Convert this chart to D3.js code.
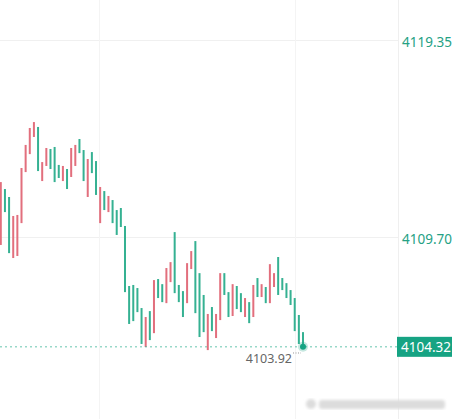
<!DOCTYPE html>
<html>
<head>
<meta charset="utf-8">
<script src="https://cdn.jsdelivr.net/npm/d3@7"></script>
<style>
	body { margin: 0; background: #fff; }
	svg { display: block; }
</style>
</head>
<body>
<div id="chart"></div>
<script>
// candle bodies, one entry per bar (red = up, green = down)
const opens = [
	4109.31, 4112.05, 4111.66, 4108.67, 4108.77, 4110.38, 4112.88, 4113.76, 4114.60, 4115.09,
	4112.44, 4113.18, 4114.01, 4114.11, 4113.23, 4112.44, 4113.03, 4112.64, 4113.18, 4114.50,
	4113.96, 4111.66, 4113.86, 4113.42, 4110.38, 4111.95, 4110.92, 4111.51, 4111.02, 4111.12,
	4110.24, 4107.30, 4107.35, 4107.20, 4106.22, 4104.31, 4106.07, 4104.99, 4107.64, 4107.39,
	4106.46, 4107.49, 4109.94, 4107.35, 4107.05, 4106.46, 4108.13, 4109.50, 4107.93, 4106.86,
	4104.16, 4106.27, 4104.75, 4105.63, 4107.93, 4107.00, 4105.83, 4107.30, 4106.95, 4105.78,
	4106.51, 4105.78, 4107.69, 4106.76, 4107.25, 4106.46, 4107.25, 4108.72, 4107.69, 4107.44,
	4107.10, 4106.71, 4105.88, 4105.04
];
const closes = [
	4112.39, 4110.92, 4108.91, 4110.73, 4110.78, 4113.08, 4114.21, 4115.04, 4115.33, 4112.93,
	4113.37, 4114.06, 4113.03, 4112.39, 4112.59, 4113.18, 4112.05, 4114.06, 4114.21, 4113.81,
	4112.44, 4113.52, 4112.83, 4111.76, 4112.15, 4111.02, 4111.71, 4110.38, 4109.80, 4110.19,
	4107.00, 4105.44, 4105.58, 4106.02, 4104.46, 4105.78, 4104.65, 4107.59, 4106.71, 4106.51,
	4108.18, 4108.47, 4106.95, 4106.51, 4105.78, 4108.42, 4109.01, 4105.97, 4104.80, 4105.04,
	4105.93, 4105.09, 4105.93, 4107.93, 4106.86, 4105.78, 4107.39, 4106.17, 4106.02, 4106.71,
	4105.48, 4107.35, 4106.76, 4107.39, 4106.46, 4108.37, 4107.93, 4106.86, 4107.10, 4106.71,
	4106.37, 4105.09, 4104.46, 4104.32
];
const priceTicks = [4119.35, 4109.70];
const lastPrice = 4104.32;
const lowPrice = 4103.92;
// vertical time grid, in bar index units
const timeGrid = [23.8, 71.1];

const width = 452;
const height = 419;
const plotRight = 398;

const red = '#e26f7d';
const green = '#35b192';

const data = opens.map((o, i) => ({ i, open: o, close: closes[i] }));

const x = d3.scaleLinear()
	.domain([0, data.length - 1])
	.range([0.8, 303]);

const y = d3.scaleLinear()
	.domain([4109.70, 4119.35])
	.range([237, 40]);

const svg = d3.select('#chart').append('svg')
	.attr('width', width)
	.attr('height', height)
	.style('font-family', '"Noto Sans", "Open Sans", sans-serif');

// grid
svg.append('g')
	.selectAll('line')
	.data(priceTicks)
	.join('line')
	.attr('x1', 0)
	.attr('x2', plotRight)
	.attr('y1', d => Math.round(y(d)) + 0.5)
	.attr('y2', d => Math.round(y(d)) + 0.5)
	.attr('stroke', '#f0f0f0');

svg.append('g')
	.selectAll('line')
	.data(timeGrid)
	.join('line')
	.attr('x1', d => Math.round(x(d)) + 0.5)
	.attr('x2', d => Math.round(x(d)) + 0.5)
	.attr('y1', 0)
	.attr('y2', height)
	.attr('stroke', '#f4f4f4');

svg.append('line')
	.attr('x1', plotRight + 0.5)
	.attr('x2', plotRight + 0.5)
	.attr('y1', 0)
	.attr('y2', height)
	.attr('stroke', '#efefef');

// candles
svg.append('g')
	.selectAll('rect')
	.data(data)
	.join('rect')
	.attr('x', d => x(d.i) - 1)
	.attr('width', 2)
	.attr('y', d => y(Math.max(d.open, d.close)))
	.attr('height', d => Math.abs(y(d.open) - y(d.close)))
	.attr('fill', d => d.close >= d.open ? red : green);

// last price line
svg.append('line')
	.attr('x1', 0)
	.attr('x2', plotRight)
	.attr('y1', y(lastPrice))
	.attr('y2', y(lastPrice))
	.attr('stroke', '#3fb79a')
	.attr('stroke-dasharray', '2,3')
	.attr('stroke-opacity', 0.8);

// axis labels
svg.append('g')
	.selectAll('text')
	.data(priceTicks)
	.join('text')
	.attr('x', 402)
	.attr('y', d => y(d) + 2)
	.attr('dy', '0.35em')
	.attr('font-size', '13.5px')
	.attr('fill', '#25a184')
	.text(d => d3.format('.2f')(d));

const lastG = svg.append('g');
lastG.append('rect')
	.attr('x', 397)
	.attr('y', y(lastPrice) - 10)
	.attr('width', 55)
	.attr('height', 20)
	.attr('fill', '#16a383');
lastG.append('text')
	.attr('x', 401)
	.attr('y', y(lastPrice))
	.attr('dy', '0.35em')
	.attr('font-size', '13.5px')
	.attr('fill', '#fff')
	.text(d3.format('.2f')(lastPrice));

// low marker
const lastX = x(data.length - 1);
svg.append('line')
	.attr('x1', lastX - 10)
	.attr('x2', lastX - 2)
	.attr('y1', y(lowPrice) - 2)
	.attr('y2', y(lowPrice) - 2)
	.attr('stroke', '#999')
	.attr('stroke-dasharray', '1,1.5');
svg.append('text')
	.attr('x', lastX - 11)
	.attr('y', y(lowPrice) + 4)
	.attr('dy', '0.35em')
	.attr('text-anchor', 'end')
	.attr('font-size', '12.5px')
	.attr('fill', '#666')
	.text(d3.format('.2f')(lowPrice));

// current point
svg.append('circle')
	.attr('cx', lastX)
	.attr('cy', y(lastPrice))
	.attr('r', 5)
	.attr('fill', '#16a383')
	.attr('fill-opacity', 0.25);
svg.append('circle')
	.attr('cx', lastX)
	.attr('cy', y(lastPrice))
	.attr('r', 3)
	.attr('fill', '#16a383');

// blurred watermark
const defs = svg.append('defs');
defs.append('filter')
	.attr('id', 'blur')
	.append('feGaussianBlur')
	.attr('stdDeviation', 1.6);
const wm = svg.append('g').attr('filter', 'url(#blur)').attr('fill', '#dcdcdc');
wm.append('circle').attr('cx', 311).attr('cy', 404).attr('r', 5);
wm.append('rect').attr('x', 319).attr('y', 400).attr('width', 126).attr('height', 9).attr('rx', 3);
</script>
</body>
</html>
